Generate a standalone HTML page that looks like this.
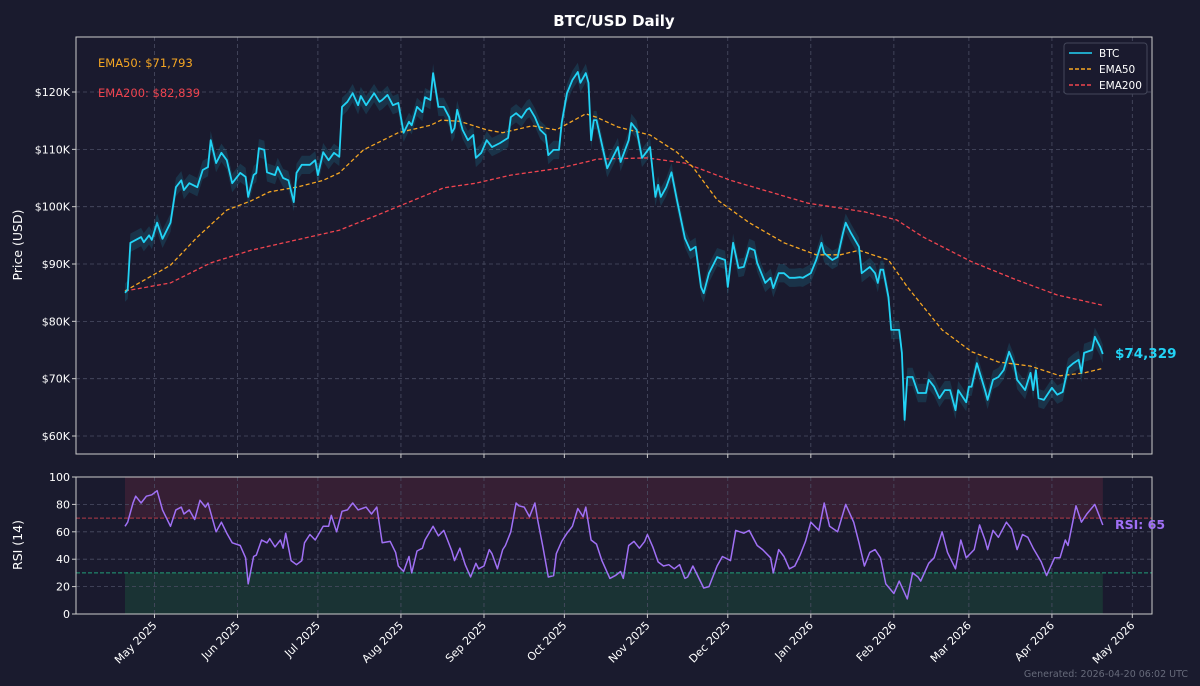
<!DOCTYPE html>
<html><head><meta charset="utf-8"><style>
html,body{margin:0;padding:0;background:#1a1b2e;}
svg{display:block;font-family:"DejaVu Sans","Liberation Sans",sans-serif;}
</style></head><body>
<svg id="c" width="1200" height="686" viewBox="0 0 1200 686" xmlns="http://www.w3.org/2000/svg">
<rect x="0" y="0" width="1200" height="686" fill="#1a1b2e"/>
<text x="614" y="26" text-anchor="middle" fill="#ffffff" font-size="15" font-weight="bold">BTC/USD Daily</text>
<g id="g"></g>
</svg>
<script>
const priceDays=[0,1,2,6,7,9,10,12,14,17,19,21,22,24,27,29,31,32,34,36,38,40,43,45,46,48,49,50,52,53,56,57,59,61,63,64,66,69,71,72,74,76,78,80,81,83,85,87,88,90,93,95,96,98,100,102,104,106,107,109,111,112,114,115,117,119,121,122,123,124,126,128,130,131,133,135,137,140,143,144,146,148,150,151,153,155,157,158,160,162,163,165,167,169,170,172,173,174,175,176,180,184,185,188,189,191,193,196,198,199,200,202,204,206,209,211,213,215,216,218,221,224,225,227,229,231,233,235,236,239,241,242,244,246,248,250,252,253,256,258,260,261,264,266,268,269,271,274,275,278,280,281,282,283,285,286,289,290,291,292,294,296,299,300,302,304,306,308,310,311,314,315,316,318,321,322,324,326,328,330,332,333,336,338,339,340,341,343,346,348,350,352,354,356,357,358,361,362,364,365];
const prices=[85.0,85.5,93.7,94.7,93.8,95.0,94.2,97.2,94.4,97.2,103.4,104.6,102.9,104.1,103.4,106.4,106.9,111.6,107.6,109.4,108.1,104.1,105.9,105.2,101.7,105.5,105.9,110.2,109.9,106.0,105.5,106.9,105.0,104.6,100.8,105.9,107.3,107.3,108.1,105.5,109.5,108.1,109.4,108.7,117.4,118.3,119.8,117.7,119.3,117.7,119.8,118.3,118.6,119.5,117.7,118.1,112.9,114.8,114.2,117.4,116.5,119.1,118.6,123.3,117.4,117.4,115.6,112.9,113.7,116.9,113.4,111.6,112.5,108.5,109.4,111.6,110.4,111.1,112.0,115.6,116.3,115.5,116.9,117.2,115.6,113.4,112.5,109.0,109.9,109.9,114.6,119.8,122.1,123.5,121.6,123.3,121.6,111.6,115.1,115.1,106.7,110.4,107.8,111.6,114.6,113.4,108.5,110.4,101.7,103.8,101.7,103.4,106.0,101.2,94.5,92.4,93.0,86.0,84.9,88.4,91.2,90.7,86.0,93.7,89.3,89.5,92.8,92.4,90.2,86.7,87.6,85.8,88.4,88.4,87.6,87.6,87.7,87.6,88.4,90.7,93.7,91.9,90.7,91.2,95.4,97.2,95.4,93.0,88.4,89.5,88.4,86.7,89.0,89.0,84.2,78.5,78.5,74.5,62.8,70.3,70.3,67.5,67.5,69.8,68.6,66.6,68.0,68.0,64.5,68.0,65.9,68.6,68.6,72.7,68.0,66.3,69.8,70.3,71.5,74.7,72.4,69.8,68.0,71.0,68.0,71.5,66.6,66.3,68.4,67.2,67.7,71.9,72.7,73.3,71.0,74.5,75.0,77.3,75.5,74.3];
const ema50Days=[0,17,27,38,47,54,64,74,80,89,102,114,118,125,135,141,152,161,172,176,184,196,206,212,221,233,246,258,267,274,285,292,305,316,326,338,349,358,365];
const ema50=[85.3,89.8,94.7,99.4,101.0,102.6,103.4,104.6,105.9,109.9,112.9,114.2,115.1,114.9,113.4,112.9,114.1,113.4,116.2,115.6,113.9,112.5,109.5,106.9,101.2,97.2,93.7,91.6,91.6,92.4,90.7,86.0,78.5,74.7,72.9,72.2,70.5,71.0,71.8];
const ema200Days=[0,17,32,47,64,80,94,106,119,131,144,162,174,176,195,209,226,255,276,288,298,316,333,348,365];
const ema200=[85.3,86.7,90.2,92.4,94.2,95.9,98.5,100.8,103.3,104.1,105.5,106.7,108.0,108.3,108.5,107.6,104.6,100.6,99.1,97.7,94.7,90.4,87.2,84.6,82.8];
const rsiDays=[0,1,3,4,6,8,10,12,14,17,19,21,22,24,26,28,30,31,34,36,38,40,43,45,46,48,49,51,53,54,56,58,59,60,62,64,66,67,69,71,74,76,77,79,81,83,85,87,90,92,94,96,99,101,102,104,106,107,109,111,112,115,117,119,122,123,125,127,129,131,132,134,136,137,139,141,142,144,146,147,149,151,153,154,156,158,160,161,163,165,167,169,171,172,174,176,178,181,183,185,186,188,190,192,194,195,197,199,201,203,205,207,209,210,212,214,216,218,221,223,226,228,231,233,236,238,241,242,244,246,248,250,252,254,256,259,261,263,266,269,272,274,276,278,280,282,284,287,289,292,294,296,297,300,302,305,307,310,312,314,317,319,321,322,324,326,329,331,333,335,337,339,342,344,347,349,351,352,355,357,359,362,364,365];
const rsiVals=[64,67,81,86,81,86,87,90,76,64,76,78,73,76,69,83,78,81,60,67,59,52,50,41,22,42,43,54,52,55,49,54,48,59,39,36,39,52,58,54,64,64,72,60,75,76,81,76,78,73,78,52,53,45,35,31,42,30,46,48,54,64,57,61,46,39,48,36,27,37,33,35,47,44,33,47,50,60,81,79,78,71,81,69,49,27,28,44,53,59,64,77,71,78,54,51,39,26,28,31,26,50,53,48,53,58,49,38,35,36,33,36,26,27,35,27,19,20,35,42,39,61,59,61,50,47,41,30,47,42,33,35,43,53,67,61,81,64,60,80,67,52,35,45,47,41,22,15,24,11,30,27,24,37,41,60,45,33,54,41,47,65,54,47,61,56,67,62,47,58,56,48,38,28,41,41,54,50,79,67,73,80,70,65];
const monthLabels=["May 2025","Jun 2025","Jul 2025","Aug 2025","Sep 2025","Oct 2025","Nov 2025","Dec 2025","Jan 2026","Feb 2026","Mar 2026","Apr 2026","May 2026"];
const monthDays=[11,42,72,103,134,164,195,225,256,287,315,346,376];
const priceTicks=[60,70,80,90,100,110,120];
const rsiTicks=[0,20,40,60,80,100];

const NS="http://www.w3.org/2000/svg";
const G=document.getElementById('g');
function el(t,a,p){const e=document.createElementNS(NS,t);for(const k in a)e.setAttribute(k,a[k]);(p||G).appendChild(e);return e;}
const X0=125,PXD=2.679;
const xs=d=>X0+d*PXD;
const ys=p=>436-(p-60)*5.733;
const yr=r=>614-r*1.37;
const L=76,R=1152,T1=37,B1=454,T2=477,B2=614;
function pts(ds,vs,f){return ds.map((d,i)=>xs(d).toFixed(1)+','+f(vs[i]).toFixed(1)).join(' ');}

let e=el('rect',{x:L,y:T1,width:R-L,height:B1-T1,fill:'#1a1a2e'});


e=el('rect',{x:L,y:T2,width:R-L,height:B2-T2,fill:'#1a1a2e'});



e=el('rect',{x:xs(0),y:yr(100),width:xs(365)-xs(0),height:yr(70)-yr(100),fill:'#3a2035',opacity:0.9});


e=el('rect',{x:xs(0),y:yr(30),width:xs(365)-xs(0),height:yr(0)-yr(30),fill:'#1a3535',opacity:0.95});



priceTicks.forEach(p=>{
  e=el('line',{x1:L,x2:R,y1:ys(p),y2:ys(p),stroke:'#4a4d63','stroke-dasharray':'4,3','stroke-width':0.8});
  
  
  e=el('text',{x:L-6,y:ys(p)+4,'text-anchor':'end',fill:'#ffffff','font-size':11});
  e.textContent='$'+p+'K';
  
  
  el('line',{x1:L-4,x2:L,y1:ys(p),y2:ys(p),stroke:'#ccc'});
});
rsiTicks.forEach(r=>{
  e=el('line',{x1:L,x2:R,y1:yr(r),y2:yr(r),stroke:'#4a4d63','stroke-dasharray':'4,3','stroke-width':0.8});
  
  
  e=el('text',{x:L-6,y:yr(r)+4,'text-anchor':'end',fill:'#ffffff','font-size':11});
  e.textContent=r;
  
  
  el('line',{x1:L-4,x2:L,y1:yr(r),y2:yr(r),stroke:'#ccc'});
});
monthDays.forEach((d,i)=>{
  const x=xs(d);
  e=el('line',{x1:x,x2:x,y1:T1,y2:B1,stroke:'#4a4d63','stroke-dasharray':'4,3','stroke-width':0.8});
  
  
  el('line',{x1:x,x2:x,y1:T2,y2:B2,stroke:'#4a4d63','stroke-dasharray':'4,3','stroke-width':0.8});
  el('line',{x1:x,x2:x,y1:B1,y2:B1+4,stroke:'#ccc'});
  el('line',{x1:x,x2:x,y1:B2,y2:B2+4,stroke:'#ccc'});
  e=el('text',{x:x+3,y:B2+12,'text-anchor':'end',fill:'#ffffff','font-size':11,transform:`rotate(-45 ${x+3} ${B2+12})`});
  e.textContent=monthLabels[i];
  
  
});

e=el('line',{x1:L,x2:R,y1:yr(70),y2:yr(70),stroke:'#d9434f','stroke-dasharray':'4,2','stroke-width':1,opacity:0.8});


e=el('line',{x1:L,x2:R,y1:yr(30),y2:yr(30),stroke:'#22c08a','stroke-dasharray':'4,2','stroke-width':1,opacity:0.8});



const up=priceDays.map((d,i)=>xs(d).toFixed(1)+','+ys(prices[i]+1.6).toFixed(1));
const dn=priceDays.map((d,i)=>xs(d).toFixed(1)+','+ys(prices[i]-1.6).toFixed(1)).reverse();
e=el('polygon',{points:up.concat(dn).join(' '),fill:'#1fb8d8',opacity:0.16});



e=el('polyline',{points:pts(ema200Days,ema200,ys),fill:'none',stroke:'#f0444f','stroke-width':1.3,'stroke-dasharray':'4,2.5'});


e=el('polyline',{points:pts(ema50Days,ema50,ys),fill:'none',stroke:'#f5a623','stroke-width':1.3,'stroke-dasharray':'4,2.5'});


e=el('polyline',{points:pts(priceDays,prices,ys),fill:'none',stroke:'#22d3f5','stroke-width':1.8,'stroke-linejoin':'round'});


e=el('polyline',{points:pts(rsiDays,rsiVals,yr),fill:'none',stroke:'#a070f5','stroke-width':1.5,'stroke-linejoin':'round'});



el('rect',{x:L,y:T1,width:R-L,height:B1-T1,fill:'none',stroke:'#cccccc','stroke-width':1});
el('rect',{x:L,y:T2,width:R-L,height:B2-T2,fill:'none',stroke:'#cccccc','stroke-width':1});

function txt(x,y,s,a,name){const t=el('text',Object.assign({x:x,y:y},a));t.textContent=s;return t;}
txt(98,67,'EMA50: $71,793',{fill:'#f5a623','font-size':11.5},'ema50-annotation');
txt(98,97,'EMA200: $82,839',{fill:'#f0444f','font-size':11.5},'ema200-annotation');
txt(1115,358,'$74,329',{fill:'#22d3f5','font-size':13.5,'font-weight':'bold'},'last-price-label');
txt(1115,529,'RSI: 65',{fill:'#a070f5','font-size':12.5,'font-weight':'bold'},'rsi-value-label');
txt(22,245,'Price (USD)',{fill:'#ffffff','font-size':12.5,'text-anchor':'middle',transform:'rotate(-90 22 245)'},'y-axis-title');
txt(22,545,'RSI (14)',{fill:'#ffffff','font-size':12.5,'text-anchor':'middle',transform:'rotate(-90 22 545)'},'rsi-axis-title');
txt(1188,677,'Generated: 2026-04-20 06:02 UTC',{fill:'#666a7a','font-size':9.5,'text-anchor':'end'},'generated-timestamp');

const lg=el('g',{});


el('rect',{x:1064,y:43,width:83,height:51,rx:3,fill:'#1a1a2e',stroke:'#44475a'},lg);
const ln=[['BTC','#22d3f5',''],['EMA50','#f5a623','4,2'],['EMA200','#f0444f','4,2']];
ln.forEach((l,i)=>{
  const y=53+i*16;
  el('line',{x1:1069,x2:1092,y1:y,y2:y,stroke:l[1],'stroke-width':1.5,'stroke-dasharray':l[2]},lg);
  const t=el('text',{x:1099,y:y+4,fill:'#ffffff','font-size':10.5},lg);
  t.textContent=l[0];
  
  
});
</script>
</body></html>
